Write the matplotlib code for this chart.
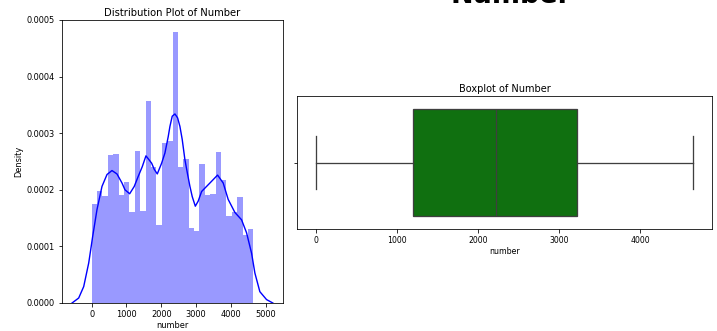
import numpy as np
import matplotlib
matplotlib.use('Agg')
import matplotlib.pyplot as plt

# histogram of "number": 30 equal bins between min and max, density scale
num_min, num_max = 0, 4650
hist_density = [1.755, 1.985, 1.885, 2.615, 2.63, 1.90, 2.14, 1.61, 2.69, 1.63,
                3.57, 2.41, 1.37, 2.83, 2.86, 4.78, 2.40, 2.55, 1.33, 1.27,
                2.46, 1.91, 1.92, 2.66, 2.18, 1.54, 1.60, 1.88, 1.20, 1.30]
hist_density = np.array(hist_density) * 1e-4

# kde curve of "number"
kde_x = [-565, -374, -230, -86, -29, 29, 152, 296, 440, 583, 727, 871, 957,
         1092, 1224, 1340, 1455, 1560, 1724, 1800, 1886, 2011, 2106, 2201,
         2250, 2316, 2394, 2471, 2537, 2603, 2681, 2759, 2825, 2891, 2980,
         3063, 3161, 3400, 3620, 3782, 3925, 4118, 4310, 4454, 4598, 4693,
         4836, 5029, 5209]
kde_y = [0.0, 0.088, 0.29, 0.707, 0.94, 1.18, 1.65, 2.06, 2.27, 2.34, 2.28,
         2.12, 2.00, 1.93, 2.06, 2.24, 2.41, 2.60, 2.47, 2.36, 2.28, 2.47,
         2.65, 2.94, 3.12, 3.30, 3.34, 3.27, 3.12, 2.89, 2.53, 2.27, 2.06,
         1.88, 1.71, 1.80, 1.97, 2.12, 2.26, 2.12, 1.83, 1.60, 1.47, 1.24,
         0.88, 0.53, 0.20, 0.06, 0.0]
kde_y = np.array(kde_y) * 1e-4

# five number summary for the boxplot
box_stats = dict(med=2218, q1=1189, q3=3222, whislo=0, whishi=4650)

fig = plt.figure(figsize=(717 / 72, 331 / 72), dpi=72)
ax0 = fig.add_axes([0.0865, 0.0846, 0.308, 0.855])
ax1 = fig.add_axes([0.4147, 0.307, 0.578, 0.403])

#### distribution plot
edges = np.linspace(num_min, num_max, len(hist_density) + 1)
centers = (edges[:-1] + edges[1:]) / 2
ax0.hist(centers, bins=edges, weights=hist_density, color='blue', alpha=0.4)
ax0.plot(kde_x, kde_y, color='blue', lw=1.4)
ax0.set_ylim(0, 0.0005)
ax0.set_yticks(np.arange(0, 0.00051, 0.0001))
ax0.set_yticklabels(['%.4f' % t for t in np.arange(0, 0.00051, 0.0001)])
ax0.set_xticks([0, 1000, 2000, 3000, 4000, 5000])
ax0.tick_params(labelsize=8.3)
ax0.set_xlabel('number', fontsize=8.3, labelpad=2)
ax0.set_ylabel('Density', fontsize=8.3)
ax0.set_title('Distribution Plot of Number', fontsize=10, pad=4)

#### boxplot
stats = [dict(box_stats, fliers=[])]
gray = '#3f3f3f'
ax1.bxp(stats, positions=[0], vert=False, widths=0.8, patch_artist=True,
        boxprops=dict(facecolor='#107010', edgecolor=gray, lw=1.3),
        medianprops=dict(color=gray, lw=1.3),
        whiskerprops=dict(color=gray, lw=1.3),
        capprops=dict(color=gray, lw=1.3), capwidths=0.4)
ax1.set_ylim(0.5, -0.5)
ax1.set_yticks([0])
ax1.set_yticklabels([''])
ax1.set_xlim(num_min - 0.05 * (num_max - num_min), num_max + 0.05 * (num_max - num_min))
ax1.set_xticks([0, 1000, 2000, 3000, 4000])
ax1.tick_params(labelsize=7.8)
ax1.set_xlabel('number', fontsize=7.9, labelpad=2)
ax1.set_title('Boxplot of Number', fontsize=9.7, pad=4)

fig.text(0.712, 0.992, 'Number', fontsize=27, fontweight='bold',
         ha='center', va='baseline')

fig.savefig('out.png', dpi=72)
